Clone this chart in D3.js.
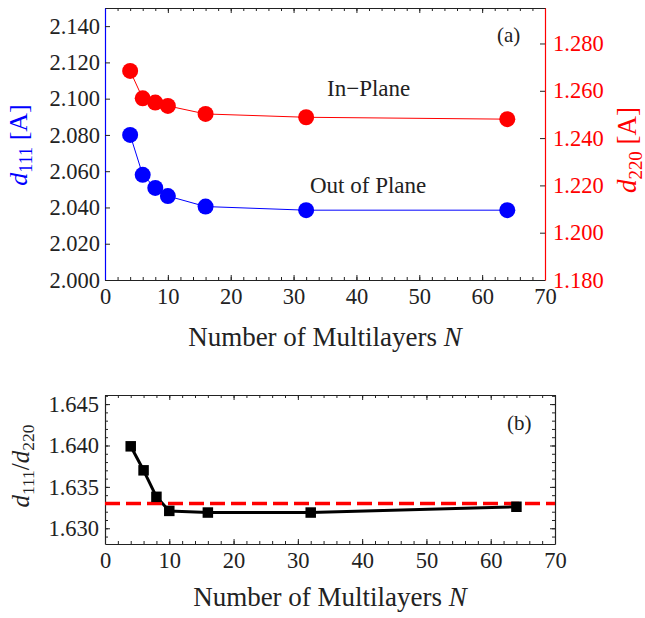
<!DOCTYPE html>
<html>
<head>
<meta charset="utf-8">
<script src="https://cdn.jsdelivr.net/npm/d3@7/dist/d3.min.js"></script>
<style>
  html, body { margin: 0; padding: 0; background: #fff; }
  svg { display: block; }
  svg text { font-family: "Liberation Serif", "DejaVu Serif", serif; }
</style>
</head>
<body>
<svg id="chart" width="645" height="618" font-family="Liberation Serif, DejaVu Serif, serif"></svg>
<script>
// Lattice spacings vs number of multilayers
const layersN = [4, 6, 8, 10, 16, 32, 64];
const d111Values = [2.0800, 2.0580, 2.0508, 2.0463, 2.0405, 2.0385, 2.0385];
const d220Values = [1.2684, 1.2568, 1.2550, 1.2536, 1.2502, 1.2488, 1.2480];
const ratioValues = [1.6399, 1.6370, 1.6338, 1.6321, 1.6319, 1.6319, 1.6326];
const idealRatio = 1.633;

const xTicks = [0, 10, 20, 30, 40, 50, 60, 70];
const d111Ticks = [2.000, 2.020, 2.040, 2.060, 2.080, 2.100, 2.120, 2.140];
const d220Ticks = [1.180, 1.200, 1.220, 1.240, 1.260, 1.280];
const ratioTicks = [1.630, 1.635, 1.640, 1.645];

const BLUE = "#0000ff", RED = "#ff0000", AX = "#222";
const SERIF = '"Liberation Serif", "DejaVu Serif", serif';
const svg = d3.select("#chart");
const fmt3 = d3.format(".3f");

function styleAxis(g, color, labelColor, fontSize) {
  g.attr("font-family", null).attr("font-size", null);
  g.selectAll(".domain").attr("stroke", color).attr("stroke-width", 1.2);
  g.selectAll(".tick line").attr("stroke", AX).attr("stroke-width", 1);
  g.selectAll(".tick text")
    .attr("fill", labelColor)
    .style("font-family", SERIF)
    .style("font-size", fontSize + "px");
}
function minorTicks(lo, hi, step) {
  const out = [];
  for (let v = lo; v <= hi + 1e-9; v += step) out.push(+v.toFixed(6));
  return out;
}

// ---------- Panel (a) ----------
const xA = d3.scaleLinear().domain([0, 70]).range([105, 545]);
const yL = d3.scaleLinear().domain([2.000, 2.150]).range([280, 8]);
const yR = d3.scaleLinear().domain([1.180, 1.295]).range([280, 8]);

const pa = svg.append("g");

// top border ticks
pa.append("g").attr("transform", "translate(0,8)")
  .call(d3.axisTop(xA).tickValues(minorTicks(0, 70, 2)).tickSize(-3).tickSizeOuter(0).tickFormat(""))
  .call(g => styleAxis(g, AX, AX, 10));
pa.append("g").attr("transform", "translate(0,8)")
  .call(d3.axisTop(xA).tickValues(xTicks).tickSize(-5).tickSizeOuter(0).tickFormat(""))
  .call(g => g.select(".domain").remove())
  .call(g => styleAxis(g, AX, AX, 10));

// bottom axis
pa.append("g").attr("transform", "translate(0,280)")
  .call(d3.axisBottom(xA).tickValues(minorTicks(0, 70, 2)).tickSize(-3).tickSizeOuter(0).tickFormat(""))
  .call(g => styleAxis(g, AX, AX, 10));
pa.append("g").attr("transform", "translate(0,280)")
  .call(d3.axisBottom(xA).tickValues(xTicks).tickSize(-5).tickSizeOuter(0).tickPadding(8).tickFormat(d3.format("d")))
  .call(g => g.select(".domain").remove())
  .call(g => styleAxis(g, AX, AX, 22.5));

// left axis (d111)
pa.append("g").attr("transform", "translate(105,0)")
  .call(d3.axisLeft(yL).tickValues(d111Ticks).tickSize(-5).tickSizeOuter(0).tickPadding(5).tickFormat(fmt3))
  .call(g => styleAxis(g, BLUE, AX, 22.5));

// right axis (d220)
pa.append("g").attr("transform", "translate(545,0)")
  .call(d3.axisRight(yR).tickValues(d220Ticks).tickSize(-5).tickSizeOuter(0).tickPadding(8).tickFormat(fmt3))
  .call(g => styleAxis(g, RED, RED, 22.5));

// series
const lineL = d3.line().x((d, i) => xA(layersN[i])).y(d => yL(d));
const lineR = d3.line().x((d, i) => xA(layersN[i])).y(d => yR(d));
pa.append("path").datum(d220Values).attr("d", lineR)
  .attr("fill", "none").attr("stroke", RED).attr("stroke-width", 1);
pa.append("path").datum(d111Values).attr("d", lineL)
  .attr("fill", "none").attr("stroke", BLUE).attr("stroke-width", 1);
pa.append("g").selectAll("circle").data(d220Values).join("circle")
  .attr("cx", (d, i) => xA(layersN[i])).attr("cy", d => yR(d)).attr("r", 8).attr("fill", RED);
pa.append("g").selectAll("circle").data(d111Values).join("circle")
  .attr("cx", (d, i) => xA(layersN[i])).attr("cy", d => yL(d)).attr("r", 8).attr("fill", BLUE);

// annotations
pa.append("text").attr("x", 497).attr("y", 42).style("font-size", "21px").attr("fill", AX).text("(a)");
pa.append("text").attr("x", 327).attr("y", 96).style("font-size", "23px").attr("fill", AX).text("In\u2212Plane");
pa.append("text").attr("x", 310).attr("y", 193).style("font-size", "23px").attr("fill", AX).text("Out of Plane");

// axis titles
function subTitle(g, parts) {
  const t = g.append("text").attr("text-anchor", "middle");
  parts.forEach(p => {
    const ts = t.append("tspan").text(p.t);
    if (p.i) ts.style("font-style", "italic");
    if (p.sub) ts.style("font-size", "70%").attr("dy", "0.3em");
    if (p.up) ts.attr("dy", "-0.21em");
  });
  return t;
}
const tl = pa.append("g").attr("transform", "translate(27,145) rotate(-90)")
  .style("font-size", "26px").attr("fill", BLUE);
subTitle(tl, [{t: "d", i: true}, {t: "111", sub: true}, {t: " [A]", up: true}]);

const tr = pa.append("g").attr("transform", "translate(636,150) rotate(-90)")
  .style("font-size", "27px").attr("fill", RED);
subTitle(tr, [{t: "d", i: true}, {t: "220", sub: true}, {t: " [A]", up: true}]);

const xtA = pa.append("text").attr("x", 325).attr("y", 346).attr("text-anchor", "middle")
  .style("font-size", "27px").attr("fill", AX);
xtA.append("tspan").text("Number of Multilayers ");
xtA.append("tspan").style("font-style", "italic").text("N");

// ---------- Panel (b) ----------
const xB = d3.scaleLinear().domain([0, 70]).range([105, 555]);
const yB = d3.scaleLinear().domain([1.6281, 1.6461]).range([544, 395]);

const pb = svg.append("g");

pb.append("g").attr("transform", "translate(0,395)")
  .call(d3.axisTop(xB).tickValues(minorTicks(0, 70, 2)).tickSize(-3).tickSizeOuter(0).tickFormat(""))
  .call(g => styleAxis(g, AX, AX, 10));
pb.append("g").attr("transform", "translate(0,395)")
  .call(d3.axisTop(xB).tickValues(xTicks).tickSize(-5).tickSizeOuter(0).tickFormat(""))
  .call(g => g.select(".domain").remove())
  .call(g => styleAxis(g, AX, AX, 10));

pb.append("g").attr("transform", "translate(0,544)")
  .call(d3.axisBottom(xB).tickValues(minorTicks(0, 70, 2)).tickSize(-3).tickSizeOuter(0).tickFormat(""))
  .call(g => styleAxis(g, AX, AX, 10));
pb.append("g").attr("transform", "translate(0,544)")
  .call(d3.axisBottom(xB).tickValues(xTicks).tickSize(-5).tickSizeOuter(0).tickPadding(8).tickFormat(d3.format("d")))
  .call(g => g.select(".domain").remove())
  .call(g => styleAxis(g, AX, AX, 22.5));

const ratioMinor = minorTicks(1.629, 1.646, 0.001);
pb.append("g").attr("transform", "translate(105,0)")
  .call(d3.axisLeft(yB).tickValues(ratioMinor).tickSize(-3).tickSizeOuter(0).tickFormat(""))
  .call(g => styleAxis(g, AX, AX, 10));
pb.append("g").attr("transform", "translate(105,0)")
  .call(d3.axisLeft(yB).tickValues(ratioTicks).tickSize(-5).tickSizeOuter(0).tickPadding(6).tickFormat(fmt3))
  .call(g => g.select(".domain").remove())
  .call(g => styleAxis(g, AX, AX, 22.5));

pb.append("g").attr("transform", "translate(555,0)")
  .call(d3.axisRight(yB).tickValues(ratioMinor).tickSize(-3).tickSizeOuter(0).tickFormat(""))
  .call(g => styleAxis(g, AX, AX, 10));
pb.append("g").attr("transform", "translate(555,0)")
  .call(d3.axisRight(yB).tickValues(ratioTicks).tickSize(-5).tickSizeOuter(0).tickFormat(""))
  .call(g => g.select(".domain").remove())
  .call(g => styleAxis(g, AX, AX, 10));

// ratio series
const lineB = d3.line().x((d, i) => xB(layersN[i])).y(d => yB(d));
pb.append("path").datum(ratioValues).attr("d", lineB)
  .attr("fill", "none").attr("stroke", "#000").attr("stroke-width", 3).attr("stroke-linejoin", "round");
// ideal c/a reference
pb.append("line")
  .attr("x1", xB(0)).attr("x2", xB(70))
  .attr("y1", yB(idealRatio)).attr("y2", yB(idealRatio))
  .attr("stroke", RED).attr("stroke-width", 3.5).attr("stroke-dasharray", "15,6");
const sq = 10.5;
pb.append("g").selectAll("rect").data(ratioValues).join("rect")
  .attr("x", (d, i) => xB(layersN[i]) - sq / 2).attr("y", d => yB(d) - sq / 2)
  .attr("width", sq).attr("height", sq).attr("fill", "#000");

pb.append("text").attr("x", 507).attr("y", 430).style("font-size", "21px").attr("fill", AX).text("(b)");

const tb = pb.append("g").attr("transform", "translate(29,466) rotate(-90)")
  .style("font-size", "25px").attr("fill", AX);
{
  const t = tb.append("text").attr("text-anchor", "middle");
  t.append("tspan").style("font-style", "italic").text("d");
  t.append("tspan").style("font-size", "70%").attr("dy", "0.3em").text("111");
  t.append("tspan").attr("dy", "-0.21em").text("/");
  t.append("tspan").style("font-style", "italic").text("d");
  t.append("tspan").style("font-size", "70%").attr("dy", "0.3em").text("220");
}

const xtB = pb.append("text").attr("x", 330).attr("y", 606).attr("text-anchor", "middle")
  .style("font-size", "27px").attr("fill", AX);
xtB.append("tspan").text("Number of Multilayers ");
xtB.append("tspan").style("font-style", "italic").text("N");
</script>
</body>
</html>
